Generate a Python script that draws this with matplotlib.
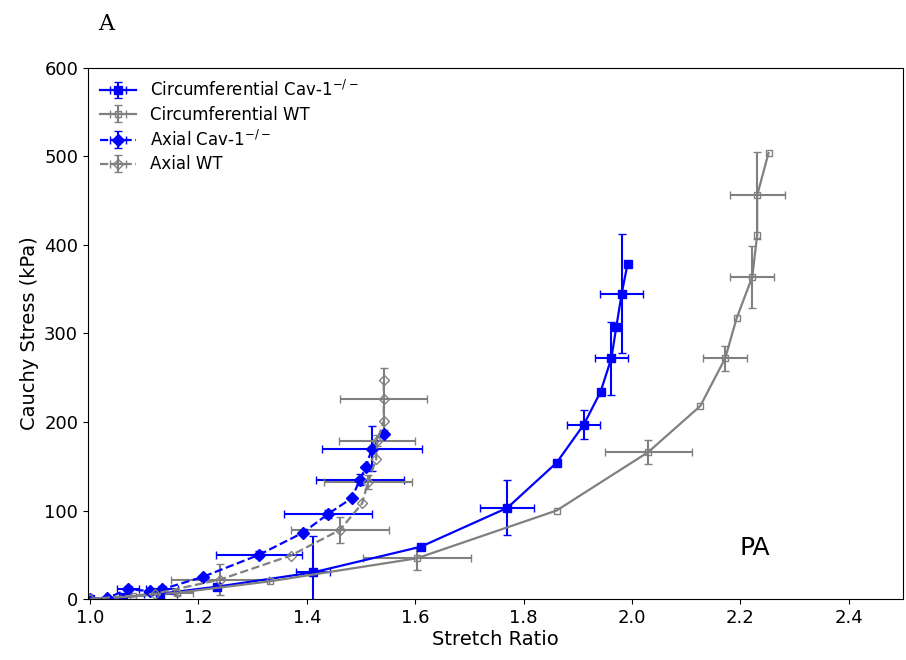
import numpy as np
import matplotlib
matplotlib.use("Agg")
import matplotlib.pyplot as plt

# Circumferential, Cav-1 knockout
circ_ko_x = [1.00, 1.06, 1.13, 1.235, 1.411, 1.610, 1.770, 1.861, 1.911, 1.942, 1.962, 1.971, 1.981, 1.992]
circ_ko_y = [0, 2, 6, 14, 30, 59, 103, 154, 197, 234, 272, 307, 345, 379]
circ_ko_xerr = [0.005, 0, 0.03, 0, 0.031, 0, 0.05, 0, 0.03, 0, 0.031, 0, 0.04, 0]
circ_ko_yerr = [1, 0, 5, 0, 41, 0, 31, 0, 16, 0, 41, 0, 67, 0]

# Circumferential, wild type
circ_wt_x = [1.00, 1.08, 1.16, 1.332, 1.603, 1.861, 2.030, 2.126, 2.172, 2.193, 2.222, 2.231, 2.231, 2.252]
circ_wt_y = [0, 3, 7, 20, 46, 100, 166, 218, 272, 317, 364, 411, 456, 504]
circ_wt_xerr = [0.005, 0, 0.03, 0, 0.10, 0, 0.08, 0, 0.041, 0, 0.041, 0, 0.051, 0]
circ_wt_yerr = [1, 0, 3, 0, 13, 0, 14, 0, 14, 0, 35, 0, 49, 0]

# Axial, Cav-1 knockout
ax_ko_x = [1.00, 1.031, 1.07, 1.11, 1.133, 1.208, 1.312, 1.393, 1.439, 1.483, 1.498, 1.509, 1.520, 1.542]
ax_ko_y = [0, 1, 11, 9, 11, 25, 50, 75, 96, 114, 135, 149, 170, 187]
ax_ko_xerr = [0.005, 0, 0.02, 0, 0.03, 0, 0.079, 0, 0.081, 0, 0.081, 0, 0.092, 0]
ax_ko_yerr = [1, 0, 4, 0, 4, 0, 4, 0, 5, 0, 6, 0, 25, 0]

# Axial, wild type
ax_wt_x = [1.00, 1.12, 1.24, 1.370, 1.461, 1.502, 1.513, 1.528, 1.530, 1.542, 1.542, 1.542]
ax_wt_y = [0, 6, 22, 49, 78, 108, 132, 158, 179, 201, 226, 248]
ax_wt_xerr = [0.005, 0, 0.09, 0, 0.09, 0, 0.081, 0, 0.07, 0, 0.08, 0]
ax_wt_yerr = [1, 0, 17, 0, 15, 0, 8, 0, 6, 0, 35, 0]

x_ticks = [1.0, 1.2, 1.4, 1.6, 1.8, 2.0, 2.2, 2.4]
y_ticks = [0, 100, 200, 300, 400, 500, 600]

fig = plt.figure(figsize=(9.06, 6.6), dpi=100)
ax = fig.add_axes([0.097, 0.0924, 0.8996, 0.8046])

common = dict(capsize=3, elinewidth=1.5, lw=1.6, errorevery=(0, 2))

ax.errorbar(circ_ko_x, circ_ko_y, xerr=circ_ko_xerr, yerr=circ_ko_yerr,
            color="blue", marker="s", ms=6, ls="-",
            label="Circumferential Cav-1$^{-/-}$", **common)
ax.errorbar(circ_wt_x, circ_wt_y, xerr=circ_wt_xerr, yerr=circ_wt_yerr,
            color="gray", marker="s", ms=5, mfc="none", ls="-",
            label="Circumferential WT", **common)
ax.errorbar(ax_ko_x, ax_ko_y, xerr=ax_ko_xerr, yerr=ax_ko_yerr,
            color="blue", marker="D", ms=6, ls="--",
            label="Axial Cav-1$^{-/-}$", **common)
ax.errorbar(ax_wt_x, ax_wt_y, xerr=ax_wt_xerr, yerr=ax_wt_yerr,
            color="gray", marker="D", ms=5, mfc="none", ls="--",
            label="Axial WT", **common)

ax.set_xlim(0.996, 2.5)
ax.set_ylim(0, 600)
ax.set_xticks(x_ticks)
ax.set_yticks(y_ticks)
ax.tick_params(labelsize=13)
ax.set_xlabel("Stretch Ratio", fontsize=14, labelpad=2)
ax.set_ylabel("Cauchy Stress (kPa)", fontsize=14)

ax.legend(loc="upper left", frameon=False, fontsize=12, handlelength=2.2,
          borderaxespad=0.3, labelspacing=0.35)

ax.text(0.80, 0.083, "PA", transform=ax.transAxes, fontsize=18)
fig.text(0.108, 0.955, "A", family="DejaVu Serif", fontsize=16)

fig.savefig("out.png", dpi=100)
